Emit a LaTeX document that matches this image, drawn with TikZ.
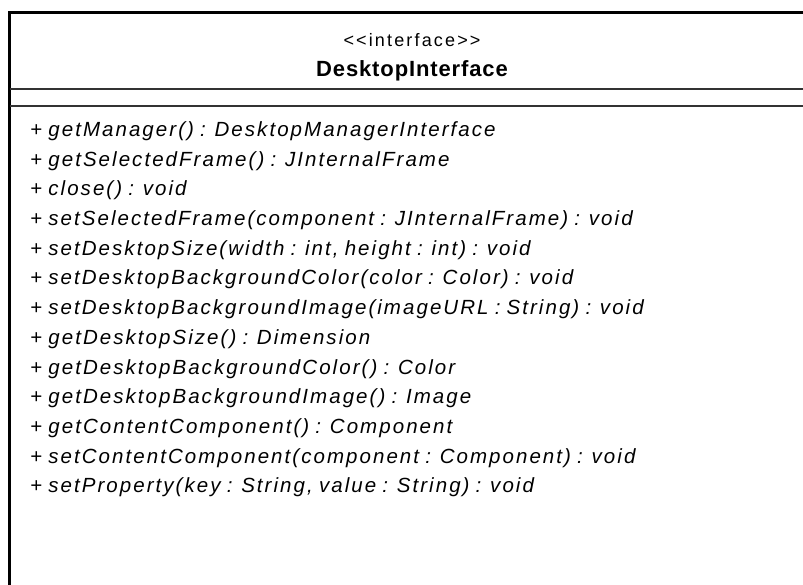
\documentclass[tikz,border=0pt]{standalone}
\usepackage{fontspec}
\setmainfont{Liberation Sans}
\newfontfamily\stereofont[LetterSpace=12]{Liberation Sans}
\newfontfamily\titlefont[LetterSpace=4]{Liberation Sans}
\newfontfamily\opfont[LetterSpace=10,WordSpace=0.8]{Liberation Sans}
\begin{document}
\begin{tikzpicture}[x=1pt,y=-1pt,
  frame/.style={draw=black,line width=3pt},
  divider/.style={draw=black!80,line width=2pt},
  stereo/.style={inner sep=0pt,anchor=base,font=\stereofont\fontsize{18}{22}\selectfont},
  classname/.style={inner sep=0pt,anchor=base,font=\titlefont\bfseries\fontsize{22}{26}\selectfont},
  op/.style={inner sep=0pt,anchor=base west,font=\opfont\itshape\fontsize{20.5}{24}\selectfont}]
\useasboundingbox (0,0) rectangle (803,585);
\fill[white] (0,0) rectangle (803,585);
\clip (0,0) rectangle (803,585);

% class box: its right and bottom edges run past the page
\draw[frame] (9.5,600) -- (9.5,12.5) -- (820,12.5);
\draw[divider] (9.5,89) -- (820,89);
\draw[divider] (9.5,106) -- (820,106);

% name compartment
\node[stereo] (stereotype) at (412,47) {<{}<interface>{}>};
\node[classname] (name) at (412,77) {DesktopInterface};

% operations compartment
\foreach \i/\txt in {
  0/{+ getManager() : DesktopManagerInterface},
  1/{+ getSelectedFrame() : JInternalFrame},
  2/{+ close() : void},
  3/{+ setSelectedFrame(component : JInternalFrame) : void},
  4/{+ setDesktopSize(width : int, height : int) : void},
  5/{+ setDesktopBackgroundColor(color : Color) : void},
  6/{+ setDesktopBackgroundImage(imageURL : String) : void},
  7/{+ getDesktopSize() : Dimension},
  8/{+ getDesktopBackgroundColor() : Color},
  9/{+ getDesktopBackgroundImage() : Image},
  10/{+ getContentComponent() : Component},
  11/{+ setContentComponent(component : Component) : void},
  12/{+ setProperty(key : String, value : String) : void}}
  \node[op] (op\i) at (30,136.5+29.7*\i) {\txt};
\end{tikzpicture}
\end{document}
